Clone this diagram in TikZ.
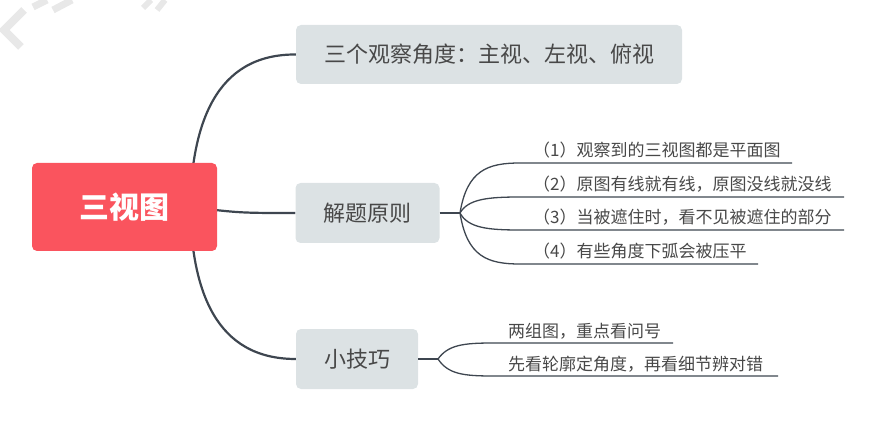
\documentclass[tikz,border=0pt]{standalone}
\usepackage{fontspec}
\setmainfont{Noto Sans CJK SC}
\usetikzlibrary{backgrounds}

\definecolor{rootred}{RGB}{250,84,94}
\definecolor{topicgray}{RGB}{220,226,228}
\definecolor{branchline}{RGB}{62,70,80}
\definecolor{labeltext}{RGB}{72,72,72}

\tikzset{
  rootbox/.style={fill=rootred, rounded corners=5pt, text=white,
    minimum width=185pt, minimum height=88pt,
    font=\fontsize{30}{34}\selectfont\bfseries},
  topicbox/.style={fill=topicgray, rounded corners=5pt, text=labeltext,
    minimum height=60pt, font=\fontsize{22}{26}\selectfont},
  itemtext/.style={anchor=base west, inner sep=0pt, text=labeltext,
    font=\fontsize{17}{20}\selectfont},
  branch/.style={draw=branchline, line width=2.2pt},
  twig/.style={draw=branchline, line width=1.3pt},
}

\begin{document}
\begin{tikzpicture}[x=1pt,y=-1pt]
    \useasboundingbox (0,0) rectangle (889,422);
    % watermark remains
    \draw[gray!18, line width=8pt] (24,10) -- (4,30) -- (21,47);
    \draw[gray!18, line width=7pt] (33,7) -- (47,0);
    \draw[gray!18, line width=7pt] (53,10) -- (72,0);
    \draw[gray!18, line width=6pt] (143,8) -- (151,0);
    \draw[gray!18, line width=6pt] (157,10) -- (165,0);

    \node[rootbox] (root) at (124.5,207) {三视图};
    \node[topicbox, minimum width=386pt, minimum height=59pt] (angles) at (489,54.5) {三个观察角度：主视、左视、俯视};
    \node[topicbox, minimum width=144pt] (rules) at (367.5,213) {解题原则};
    \node[topicbox, minimum width=122pt] (tips) at (357,359) {小技巧};

    \coordinate (hub) at (190,207);
    \begin{scope}[on background layer]
      \draw[branch] (hub) .. controls (192,125) and (215,54) .. (angles.west);
      \draw[branch] (hub) .. controls (240,213) .. (rules.west);
      \draw[branch] (hub) .. controls (192,290) and (215,359) .. (tips.west);
    \end{scope}

    % principles
    \coordinate (rfork) at (460,213);
    \draw[twig] (rules.east) -- (rfork);
    \coordinate (r1s) at (520,163); \coordinate (r1e) at (792,163);
    \coordinate (r2s) at (520,197); \coordinate (r2e) at (844,197);
    \coordinate (r3s) at (520,230); \coordinate (r3e) at (844,230);
    \coordinate (r4s) at (520,264); \coordinate (r4e) at (758,264);
    \draw[twig] (rfork) .. controls (467,170) and (488,163) .. (r1s) -- (r1e);
    \draw[twig] (rfork) .. controls (468,199) and (488,197) .. (r2s) -- (r2e);
    \draw[twig] (rfork) .. controls (468,228) and (488,230) .. (r3s) -- (r3e);
    \draw[twig] (rfork) .. controls (467,257) and (488,264) .. (r4s) -- (r4e);
    \node[itemtext] (rule1) at (533,157) {（1）观察到的三视图都是平面图};
    \node[itemtext] (rule2) at (533,191) {（2）原图有线就有线，原图没线就没线};
    \node[itemtext] (rule3) at (533,224) {（3）当被遮住时，看不见被遮住的部分};
    \node[itemtext] (rule4) at (533,258) {（4）有些角度下弧会被压平};

    % tips
    \coordinate (tfork) at (438,359);
    \draw[twig] (tips.east) -- (tfork);
    \coordinate (t1s) at (493,343); \coordinate (t1e) at (673,343);
    \coordinate (t2s) at (493,376); \coordinate (t2e) at (778,376);
    \draw[twig] (tfork) .. controls (448,345) and (463,343) .. (t1s) -- (t1e);
    \draw[twig] (tfork) .. controls (448,374) and (463,376) .. (t2s) -- (t2e);
    \node[itemtext] (tip1) at (508,337) {两组图，重点看问号};
    \node[itemtext] (tip2) at (508,370) {先看轮廓定角度，再看细节辨对错};
\end{tikzpicture}
\end{document}
